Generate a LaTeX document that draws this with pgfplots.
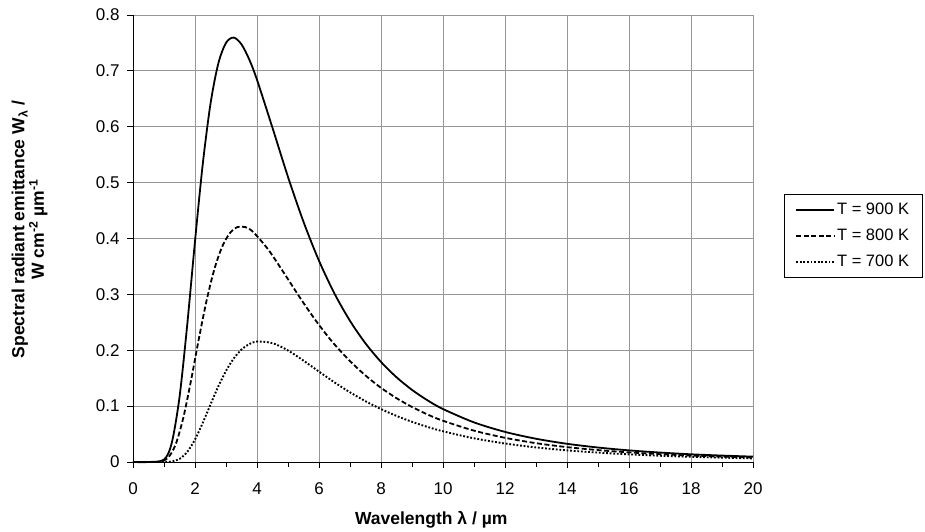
\documentclass[border=0pt]{standalone}
\usepackage{fontspec}
\setmainfont{Liberation Sans}
\usepackage{pgfplots}
\pgfplotsset{compat=1.18}
\definecolor{gridgray}{RGB}{150,150,150}

\begin{document}
\begin{tikzpicture}
% fixed canvas so the page has the reference's 925x532 proportions
\path[use as bounding box] (-133pt,-70pt) rectangle (792pt,462pt);
\begin{axis}[
    at={(0pt,0pt)}, anchor=south west,
    scale only axis, width=620pt, height=447pt,
    xmin=0, xmax=20, ymin=0, ymax=0.8,
    xtick={0,2,...,20}, minor x tick num=1,
    ytick={0,0.1,0.2,0.3,0.4,0.5,0.6,0.7,0.8},
    axis x line=bottom, axis y line=left,
    axis line style={-, black, line width=0.9pt},
    tick style={black, line width=0.9pt},
    tick align=outside,
    major tick length=6pt, minor tick length=5pt,
    grid=major,
    grid style={gridgray, line width=0.9pt},
    /pgf/number format/assume math mode=true,
    yticklabel style={/pgf/number format/fixed, /pgf/number format/precision=1,
        font=\fontsize{17}{20}\selectfont, xshift=-4pt},
    xticklabel style={font=\fontsize{17}{20}\selectfont, yshift=-11pt},
    xlabel={Wavelength λ / µm},
    xlabel style={at={(axis description cs:0.481,0)}, anchor=north,
        yshift=-46pt, font=\bfseries\fontsize{17.5}{20}\selectfont},
    ylabel={Spectral radiant emittance W\textsubscript{λ} /\\W cm\textsuperscript{-2} µm\textsuperscript{-1}},
    ylabel style={at={(axis description cs:-0.132,0.52)}, anchor=south,
        align=center, font=\bfseries\fontsize{17.5}{19.5}\selectfont},
    legend style={at={(1.05,0.506)}, anchor=west, draw=black,
        font=\fontsize{16.5}{19}\selectfont,
        inner xsep=11pt, inner ysep=7pt, row sep=9pt},
    legend cell align=left,
    legend image code/.code={\draw[#1] (0pt,0pt) -- (38pt,0pt);},
    clip=false,
]
% T = 900 K
\addplot[black, line width=1.8pt, smooth, tension=0.5] coordinates {
    (0,0) (0.5,0) (1,0.0043) (1.25,0.0342) (1.5,0.1159) (1.75,0.2459)
    (2,0.3950) (2.25,0.5330) (2.5,0.6411) (2.75,0.7128) (3,0.7502)
    (3.25,0.7596) (3.5,0.7474) (3.75,0.7204) (4,0.6840) (4.5,0.5980)
    (5,0.5102) (5.5,0.4299) (6,0.3602) (6.5,0.3014) (7,0.2526)
    (7.5,0.2123) (8,0.1791) (8.5,0.1517) (9,0.1291) (9.5,0.1104)
    (10,0.0948) (11,0.0709) (12,0.0539)
    (13,0.0416) (14,0.0326) (15,0.0259) (16,0.0208) (17,0.0169)
    (18,0.0138) (19,0.0115) (20,0.0096)
};
\addlegendentry{T = 900 K}
% T = 800 K
\addplot[black, line width=1.8pt, dash pattern=on 5pt off 2.5pt,
    smooth, tension=0.5] coordinates {
    (0,0) (0.5,0) (0.87,0.0006) (1.12,0.0069) (1.37,0.0306) (1.62,0.0785)
    (1.87,0.1454) (2.12,0.2192) (2.37,0.2880) (2.62,0.3442) (2.87,0.3845)
    (3.12,0.4093) (3.37,0.4204) (3.62,0.4204) (3.87,0.4120) (4.37,0.3796)
    (4.88,0.3374) (5.39,0.2938) (5.9,0.2528) (6.41,0.2163) (6.93,0.1846)
    (7.44,0.1577) (7.95,0.1348) (8.46,0.1156) (8.97,0.0994) (9.475,0.0857)
    (9.98,0.0742) (10.99,0.0563) (12,0.0433)
    (13,0.0337) (14,0.0266) (15,0.0213) (16,0.0172) (17,0.0140)
    (18,0.0115) (19,0.0096) (20,0.0080)
};
\addlegendentry{T = 800 K}
% T = 700 K
\addplot[black, line width=1.9pt, dash pattern=on 1.8pt off 1.8pt,
    smooth, tension=0.5] coordinates {
    (0,0) (0.5,0) (1,0.0000) (1.25,0.0009) (1.5,0.0055) (1.75,0.0181)
    (2,0.0402) (2.25,0.0700) (2.5,0.1030) (2.75,0.1351) (3,0.1631)
    (3.25,0.1853) (3.5,0.2012) (3.75,0.2110) (4,0.2156) (4.5,0.2127)
    (5,0.1996) (5.5,0.1814) (6,0.1618) (6.5,0.1425) (7,0.1247)
    (7.5,0.1088) (8,0.0947) (8.5,0.0825) (9,0.0719) (9.5,0.0628)
    (10,0.0550) (11,0.0424) (12,0.0331)
    (13,0.0261) (14,0.0208) (15,0.0168) (16,0.0137) (17,0.0112)
    (18,0.0093) (19,0.0078) (20,0.0065)
};
\addlegendentry{T = 700 K}
\end{axis}
\end{tikzpicture}
\end{document}
